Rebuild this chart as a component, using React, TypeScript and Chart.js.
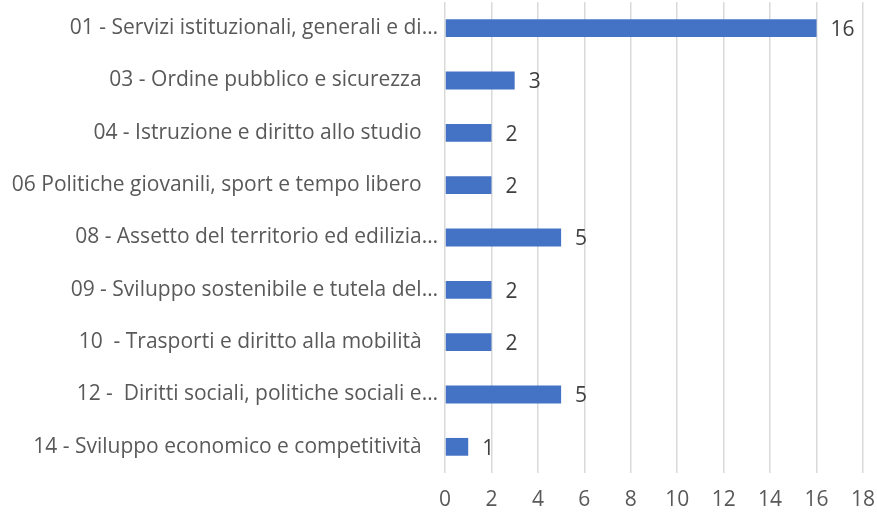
import React, { useEffect, useRef } from "react";
import { Chart, registerables } from "chart.js";

Chart.register(...registerables);

const categories = [
  "01 - Servizi istituzionali, generali e di…",
  "03 - Ordine pubblico e sicurezza",
  "04 - Istruzione e diritto allo studio",
  "06 Politiche giovanili, sport e tempo libero",
  "08 - Assetto del territorio ed edilizia…",
  "09 - Sviluppo sostenibile e tutela del…",
  "10  - Trasporti e diritto alla mobilità",
  "12 -  Diritti sociali, politiche sociali e…",
  "14 - Sviluppo economico e competitività",
];
const values = [16, 3, 2, 2, 5, 2, 2, 5, 1];
const xMin = 0;
const xMax = 18;
const xStep = 2;

const FONT = "'Open Sans', sans-serif";
const FS = 21;

const valueLabels = {
  id: "valueLabels",
  afterDatasetsDraw(chart: any) {
    const ctx = chart.ctx;
    const meta = chart.getDatasetMeta(0);
    ctx.save();
    ctx.font = `${FS}px ${FONT}`;
    ctx.fillStyle = "#404040";
    ctx.textAlign = "left";
    ctx.textBaseline = "middle";
    meta.data.forEach((el: any, i: number) => {
      ctx.fillText(String(values[i]), el.x + 14, el.y + 2);
    });
    ctx.restore();
  },
};

export default function App() {
  const ref = useRef<HTMLCanvasElement | null>(null);
  useEffect(() => {
    document.body.style.margin = "0";
    const chart = new Chart(ref.current!, {
      type: "bar",
      data: {
        labels: categories,
        datasets: [
          {
            data: values,
            backgroundColor: "#4472C4",
            borderWidth: 0,
            barPercentage: 0.68,
            categoryPercentage: 0.5,
          },
        ],
      },
      options: {
        indexAxis: "y",
        animation: false,
        responsive: false,
        maintainAspectRatio: false,
        layout: { padding: { top: 2, right: 14, bottom: 0, left: 0 } },
        plugins: { legend: { display: false }, tooltip: { enabled: false } },
        scales: {
          x: {
            min: xMin,
            max: xMax,
            ticks: {
              stepSize: xStep,
              color: "#595959",
              font: { family: FONT, size: FS },
              padding: 14,
              maxRotation: 0,
            },
            grid: { color: "#d9d9d9", lineWidth: 1.5, drawTicks: false },
            border: { display: false },
            afterFit: (scale: any) => {
              scale.height = 45;
              scale.paddingRight = 0;
              scale.paddingLeft = 0;
            },
          },
          y: {
            grid: { display: false, drawTicks: false },
            border: { display: false },
            ticks: {
              color: "#595959",
              font: { family: FONT, size: FS },
              padding: 7,
              autoSkip: false,
              callback: (_v: any, i: number) => {
                const s = categories[i];
                return s.endsWith("…") ? s : s + "   ";
              },
            },
            afterFit: (scale: any) => {
              scale.width = 445;
              scale.paddingTop = 0;
              scale.paddingBottom = 0;
            },
          },
        },
      },
      plugins: [valueLabels],
    });
    return () => chart.destroy();
  }, []);
  return (
    <div style={{ position: "fixed", left: 0, top: 0, width: 877, height: 518 }}>
      <canvas ref={ref} width={877} height={518} style={{ display: "block" }} />
    </div>
  );
}
